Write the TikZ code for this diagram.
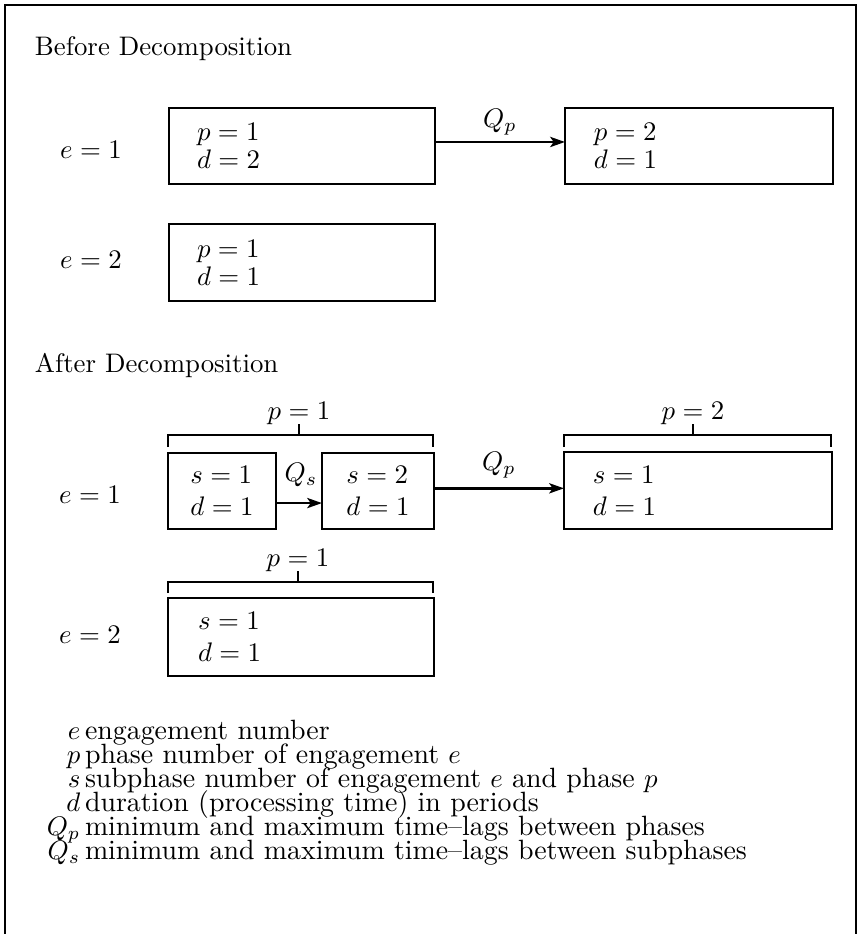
\documentclass[tikz,border=0pt]{standalone}
\usetikzlibrary{arrows.meta}
\begin{document}
\begin{tikzpicture}[x=0.373pt,y=-0.373pt,
  every node/.style={inner sep=0pt, outer sep=0pt},
  frame/.style={line width=0.9pt},
  boxbase/.style={draw, rectangle, line width=0.9pt, align=left, inner ysep=0pt},
  wide/.style={boxbase, text width=78.3pt, inner xsep=10.45pt, minimum height=28.4pt, font=\fontsize{10}{10.5}\selectfont},
  widetwo/.style={boxbase, text width=76.8pt, inner xsep=11.2pt, minimum height=28.8pt, font=\fontsize{10}{12}\selectfont},
  narrow/.style={boxbase, minimum height=28.4pt, font=\fontsize{10}{12}\selectfont},
  arr/.style={line width=0.9pt, -{Stealth[length=5.5pt,width=3.8pt,inset=1.3pt]}},
  brk/.style={line width=0.8pt},
  title/.style={anchor=base west},
  elab/.style={anchor=base},
  legend/.style={anchor=base west, font=\fontsize{10.4}{12}\selectfont}
]
\useasboundingbox (0,0) rectangle (859,934);
% outer frame
\draw[frame] (5,934) -- (5,5) -- (856,5) -- (856,934);

% ---------------- Before decomposition
\node[title] (t1) at (35,56) {Before Decomposition};
\node[elab] (e1a) at (91,158) {$e=1$};
\node[elab] (e2a) at (91,268) {$e=2$};

\node[wide] (A) at (302,146) {$p=1$\\ $d=2$};
\node[wide, text width=78.4pt, inner xsep=10.8pt] (B) at (699,146) {$p=2$\\ $d=1$};
\node[wide, minimum height=28.7pt] (C) at (302,262.5) {$p=1$\\ $d=1$};

\node (qp1) at (500,122) {$Q_p$};
\draw[arr] ([yshift=1.5pt]A.east) -- ([yshift=1.5pt]B.west);

% ---------------- After decomposition
\node[title] (t2) at (35,372) {After Decomposition};
\node[elab] (e1b) at (90,503) {$e=1$};
\node[elab] (e2b) at (90,643) {$e=2$};

\node[narrow, minimum width=40.3pt] (S1) at (222,491) {$s=1$\\ $d=1$};
\node[narrow, minimum width=41.8pt] (S2) at (378,491) {$s=2$\\ $d=1$};
\node[widetwo, text width=78.4pt, inner xsep=10.8pt, minimum height=28.7pt] (D) at (698,490.5) {$s=1$\\ $d=1$};
\node[widetwo, minimum height=29.1pt] (E) at (301,637) {$s=1$\\ $d=1$};

\node (qs) at (301,475) {$Q_s$};
\draw[arr] ([yshift=-4.5pt]S1.east) -- ([yshift=-4.5pt]S2.west);
\node (qp2) at (499,465) {$Q_p$};
\draw[arr] ([yshift=1pt]S2.east) -- ([yshift=1pt]S2.east -| D.west);

% brackets
\node (lp1) at (299,413) {$p=1$};
\draw[brk] (168,447) -- (168,435) -- (433,435) -- (433,447);
\draw[brk] (lp1.south) -- (lp1.south |- 0,435);

\node (lp2) at (693,413) {$p=2$};
\draw[brk] (564,447) -- (564,435) -- (831,435) -- (831,447);
\draw[brk] (lp2.south) -- (lp2.south |- 0,435);

\node (lp3) at (298,560) {$p=1$};
\draw[brk] (168,593) -- (168,582) -- (433,582) -- (433,593);
\draw[brk] (lp3.south) -- (lp3.south |- 0,582);

% ---------------- Legend
\node[legend] (l1) at (85,739) {\llap{$e$\,}engagement number};
\node[legend] (l2) at (85,763) {\llap{$p$\,}phase number of engagement $e$};
\node[legend] (l3) at (85,787) {\llap{$s$\,}subphase number of engagement $e$ and phase $p$};
\node[legend] (l4) at (85,811) {\llap{$d$\,}duration (processing time) in periods};
\node[legend] (l5) at (85,835) {\llap{$Q_p$\,}minimum and maximum time--lags between phases};
\node[legend] (l6) at (85,859) {\llap{$Q_s$\,}minimum and maximum time--lags between subphases};
\end{tikzpicture}
\end{document}
